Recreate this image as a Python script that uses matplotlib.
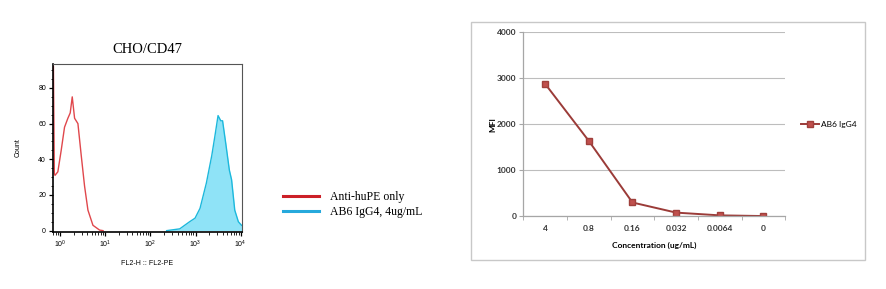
import numpy as np
import matplotlib
matplotlib.use('Agg')
import matplotlib.pyplot as plt
from matplotlib.patches import Rectangle
from matplotlib.ticker import MultipleLocator, FixedLocator, NullFormatter

# flow histogram, x in log10 units of FL2-PE, y = count
RED_LOG = [-0.15, -0.13, -0.115, -0.052, 0.022, 0.096, 0.17, 0.222, 0.267,
           0.319, 0.393, 0.467, 0.54, 0.615, 0.726, 0.874, 0.95]
RED_COUNT = [92, 32, 31, 33, 45, 58, 63, 66, 75, 63, 60, 42, 25, 11.5, 3, 0.3, 0]

CYAN_LOG = [2.36, 2.65, 2.87, 2.99, 3.1, 3.24, 3.36, 3.43, 3.5, 3.56,
            3.6, 3.67, 3.75, 3.8, 3.87, 3.95, 4.02]
CYAN_COUNT = [0, 1, 5, 7, 12.5, 26.6, 42, 53, 64.5, 61.6, 61.6, 49, 34,
              28.5, 11.5, 5, 3]

HIST_LABELS = ['Anti-huPE only', 'AB6 IgG4, 4ug/mL']

# MFI titration
CONCENTRATIONS = ['4', '0.8', '0.16', '0.032', '0.0064', '0']
MFI = [2880, 1640, 300, 80, 20, 5]
SERIES_NAME = 'AB6 IgG4'

SERIF = 'Liberation Serif'
SANS = 'Liberation Sans'
EXCEL = 'Lato'


def plot_histogram(fig):
    ax = fig.add_axes([0.0598, 0.197, 0.2133, 0.582])
    red_x = 10 ** np.array(RED_LOG)
    cyan_x = 10 ** np.array(CYAN_LOG)

    ax.plot(red_x, RED_COUNT, color='#e0474c', lw=1.0)
    ax.fill_between(cyan_x, CYAN_COUNT, 0, color='#8fe3f7', lw=0)
    ax.plot(cyan_x, CYAN_COUNT, color='#1cb8dc', lw=1.0)

    ax.set_xscale('log')
    ax.set_xlim(10 ** -0.16, 10 ** 4.03)
    ax.set_ylim(-0.8, 93.5)
    ax.yaxis.set_major_locator(MultipleLocator(20))
    ax.yaxis.set_minor_locator(MultipleLocator(5))
    ax.xaxis.set_major_locator(FixedLocator([1, 10, 100, 1000, 10000]))

    for side in ['left', 'bottom']:
        ax.spines[side].set_color('black')
        ax.spines[side].set_linewidth(1.2)
    for side in ['top', 'right']:
        ax.spines[side].set_color('#555555')
        ax.spines[side].set_linewidth(0.8)

    ax.tick_params(which='major', length=3, width=0.9, labelsize=5, pad=2)
    ax.tick_params(which='minor', length=1.8, width=0.6)
    for lbl in ax.get_yticklabels() + ax.get_xticklabels():
        lbl.set_family(SANS)

    ax.set_ylabel('Count', fontsize=5, family=SANS, labelpad=12)
    ax.set_xlabel('FL2-H :: FL2-PE', fontsize=5, family=SANS, labelpad=7)
    ax.set_title('CHO/CD47', fontsize=10.5, family=SERIF, pad=8)

    leg_red = plt.Line2D([], [], color='#cc2027', lw=2.2)
    leg_cyan = plt.Line2D([], [], color='#26a9dc', lw=2.2)
    fig.legend([leg_red, leg_cyan], HIST_LABELS, loc='center left',
               bbox_to_anchor=(0.3075, 0.292), frameon=False,
               prop={'family': SERIF, 'size': 8.5}, handlelength=3.05,
               handletextpad=0.9, labelspacing=0.3)


def plot_mfi(fig):
    fig.add_artist(Rectangle((0.5316, 0.1003), 0.4447, 0.8235,
                             transform=fig.transFigure, fill=False,
                             edgecolor='#c8c8c8', lw=1.0))
    ax = fig.add_axes([0.5906, 0.2516, 0.2957, 0.6366])
    pos = np.arange(len(CONCENTRATIONS))

    ax.plot(pos, MFI, color='#9b3b38', lw=1.4, marker='s', markersize=4.5,
            markerfacecolor='#c0504d', markeredgecolor='#a0403c',
            label=SERIES_NAME)

    ax.set_xlim(-0.5, len(CONCENTRATIONS) - 0.5)
    ax.set_ylim(0, 4000)
    ax.yaxis.set_major_locator(MultipleLocator(1000))
    ax.set_xticks(pos)
    ax.set_xticklabels(CONCENTRATIONS)
    ax.xaxis.set_minor_locator(FixedLocator(np.arange(-0.5, len(CONCENTRATIONS), 1)))
    ax.xaxis.set_minor_formatter(NullFormatter())

    ax.grid(axis='y', color='#bdbdbd', lw=0.8)
    ax.set_axisbelow(True)
    for side in ['top', 'right']:
        ax.spines[side].set_visible(False)
    for side in ['left', 'bottom']:
        ax.spines[side].set_color('#a6a6a6')
        ax.spines[side].set_linewidth(0.9)

    ax.tick_params(axis='y', length=3, color='#a6a6a6', labelsize=6, pad=2)
    ax.tick_params(axis='x', which='major', length=0, labelsize=6, pad=6)
    ax.tick_params(axis='x', which='minor', length=3, color='#a6a6a6')
    for lbl in ax.get_yticklabels() + ax.get_xticklabels():
        lbl.set_family(EXCEL)
        lbl.set_fontweight('bold')
        lbl.set_color('#333333')

    ax.set_ylabel('MFI', fontsize=6, family=EXCEL, fontweight='bold', labelpad=0)
    ax.set_xlabel('Concentration (ug/mL)', fontsize=6, family=EXCEL,
                  fontweight='bold', labelpad=7)

    ax.legend(loc='center left', bbox_to_anchor=(1.03, 0.5), frameon=False,
              prop={'family': EXCEL, 'size': 6}, handlelength=2.2,
              handletextpad=0.2)


def main():
    fig = plt.figure(figsize=(8.86, 2.89), dpi=100)
    plot_histogram(fig)
    plot_mfi(fig)
    fig.savefig('out.png', dpi=100)


if __name__ == '__main__':
    main()
